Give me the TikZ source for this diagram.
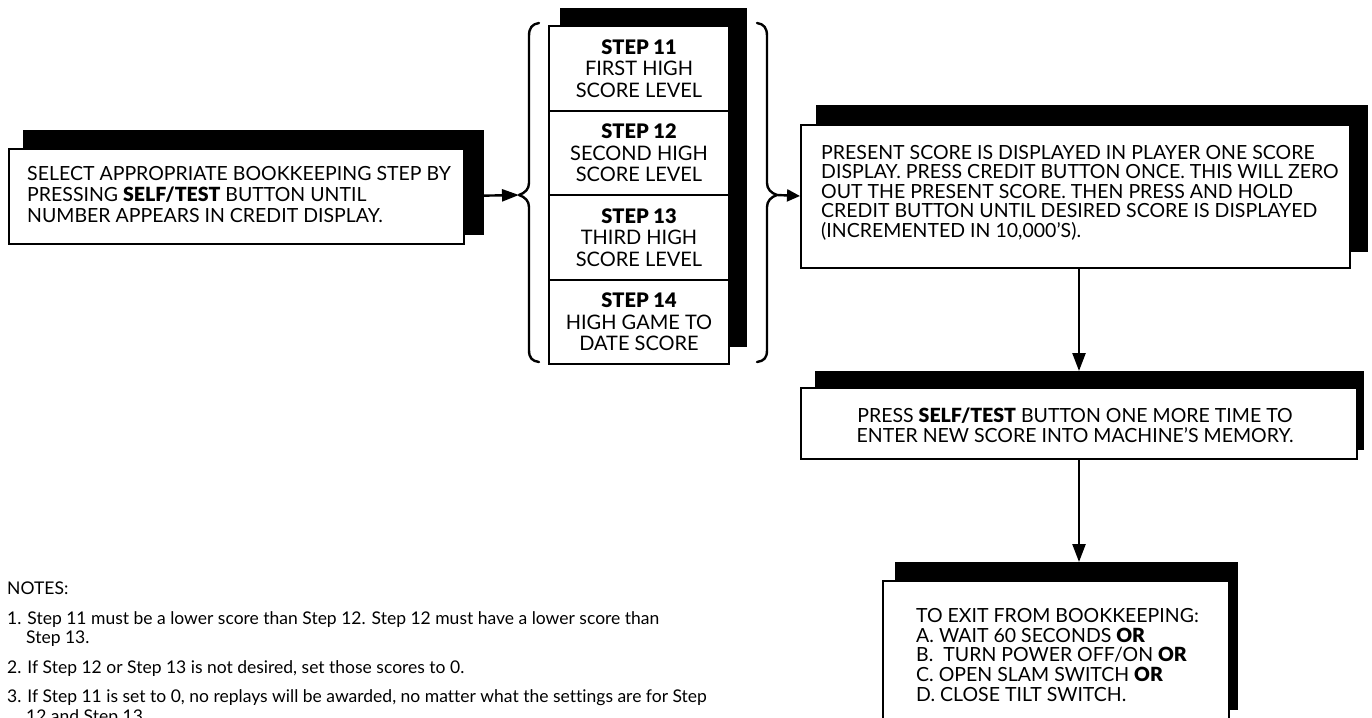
\documentclass[tikz,border=0pt]{standalone}
\usepackage{fontspec}
\setmainfont{Lato}[BoldFont={Lato Black},Ligatures=NoCommon]
\usetikzlibrary{arrows.meta}
\begin{document}
\begin{tikzpicture}[x=1pt,y=-1pt,
  shadowbox/.style={fill=black,draw=none,inner sep=0pt,outer sep=0pt,anchor=north west},
  frontbox/.style={draw=black,fill=white,line width=2pt,inner sep=0pt,anchor=north west},
  steprow/.style={frontbox,minimum width=180pt,minimum height=84.5pt,align=center,
    font=\fontsize{20}{21.5}\selectfont},
  boxtext/.style={inner sep=0pt,align=left,anchor=north west},
  notetext/.style={inner sep=0pt,anchor=base west,font=\fontsize{17.5}{19}\selectfont},
  bracestyle/.style={line width=2.4pt,line cap=round,line join=round},
  arrL/.style={line width=2.4pt,-{Triangle[length=17pt,width=12pt]}},
  arrS/.style={line width=2.4pt,-{Triangle[length=13pt,width=12pt]}},
  arrV/.style={line width=2.4pt,-{Triangle[length=18pt,width=13pt]}},
]
\useasboundingbox (0,0) rectangle (1372,717);
\begin{scope}
\clip (0,0) rectangle (1372,717);
\fill[white] (0,0) rectangle (1372,717);

% left box
\node[shadowbox,minimum width=461pt,minimum height=105pt] (lsh) at (23,130) {};
\node[frontbox,minimum width=455pt,minimum height=95pt] (lbox) at (8,147.5) {};
\node[boxtext,font=\fontsize{19.5}{21}\selectfont] (ltx) at (27,166)
  {SELECT APPROPRIATE BOOKKEEPING STEP BY\\PRESSING \textbf{SELF/TEST} BUTTON UNTIL\\NUMBER APPEARS IN CREDIT DISPLAY.};

% step stack
\node[shadowbox,minimum width=187pt,minimum height=339pt] (ssh) at (560,8) {};
\node[steprow] (s11) at (548,25) {\textbf{STEP 11}\\FIRST HIGH\\SCORE LEVEL};
\node[steprow] (s12) at (548,109.5) {\textbf{STEP 12}\\SECOND HIGH\\SCORE LEVEL};
\node[steprow] (s13) at (548,194) {\textbf{STEP 13}\\THIRD HIGH\\SCORE LEVEL};
\node[steprow] (s14) at (548,278.5) {\textbf{STEP 14}\\HIGH GAME TO\\DATE SCORE};

% braces
\coordinate (lbt) at (519,195);
\coordinate (rbt) at (777,195);
\draw[bracestyle] (539,23) .. controls (532,24) and (529,28) .. (529,36) -- (529,183)
  .. controls (529,189) and (525,193) .. (lbt) .. controls (525,197) and (529,201) .. (529,207)
  -- (529,350) .. controls (529,358) and (532,361) .. (539,362);
\draw[bracestyle] (757,23) .. controls (764,24) and (767,28) .. (767,36) -- (767,183)
  .. controls (767,189) and (771,193) .. (rbt) .. controls (771,197) and (767,201) .. (767,207)
  -- (767,350) .. controls (767,358) and (764,361) .. (757,362);

% right box
\node[shadowbox,minimum width=552pt,minimum height=147pt] (rsh) at (816,105) {};
\node[frontbox,minimum width=549pt,minimum height=143pt] (rbox) at (800,123.5) {};
\node[boxtext,font=\fontsize{19.5}{19.5}\selectfont] (rtx) at (821,145)
  {PRESENT SCORE IS DISPLAYED IN PLAYER ONE SCORE\\DISPLAY. PRESS CREDIT BUTTON ONCE. THIS WILL ZERO\\OUT THE PRESENT SCORE. THEN PRESS AND HOLD\\CREDIT BUTTON UNTIL DESIRED SCORE IS DISPLAYED\\(INCREMENTED IN 10,000’S).};

% middle box
\node[shadowbox,minimum width=549pt,minimum height=79pt] (msh) at (815,371) {};
\node[frontbox,minimum width=556pt,minimum height=71pt] (mbox) at (800,387) {};
\node[inner sep=0pt,align=center,anchor=north,font=\fontsize{19.5}{20}\selectfont] (mtx) at (1075,408)
  {PRESS \textbf{SELF/TEST} BUTTON ONE MORE TIME TO\\ENTER NEW SCORE INTO MACHINE’S MEMORY.};

% bottom box
\node[shadowbox,minimum width=343pt,minimum height=148pt] (bsh) at (895,562) {};
\node[frontbox,minimum width=346pt,minimum height=170pt] (bbox) at (882,580) {};
\node[boxtext,font=\fontsize{19.5}{19.8}\selectfont] (btx) at (916,608)
  {TO EXIT FROM BOOKKEEPING:\\A. WAIT 60 SECONDS \textbf{OR}\\B.\ \ TURN POWER OFF/ON \textbf{OR}\\C. OPEN SLAM SWITCH \textbf{OR}\\D. CLOSE TILT SWITCH.};

% connectors
\coordinate (ax) at (1079,0);
\draw[arrL] (lbox.east) -- (lbt);
\draw[arrS] (rbt) -- (rbox.west);
\draw[arrV] (rbox.south -| ax) -- (msh.north -| ax);
\draw[arrV] (mbox.south -| ax) -- (bsh.north -| ax);

% notes
\node[notetext] (n0) at (7,594) {NOTES:};
\node[notetext] (n1) at (7,624.5) {1. Step 11 must be a lower score than Step 12. Step 12 must have a lower score than};
\node[notetext] (n1b) at (26,643) {Step 13.};
\node[notetext] (n2) at (7,673.5) {2. If Step 12 or Step 13 is not desired, set those scores to 0.};
\node[notetext] (n3) at (7,702) {3. If Step 11 is set to 0, no replays will be awarded, no matter what the settings are for Step};
\node[notetext] (n3b) at (26,722) {12 and Step 13.};
\end{scope}
\end{tikzpicture}
\end{document}
